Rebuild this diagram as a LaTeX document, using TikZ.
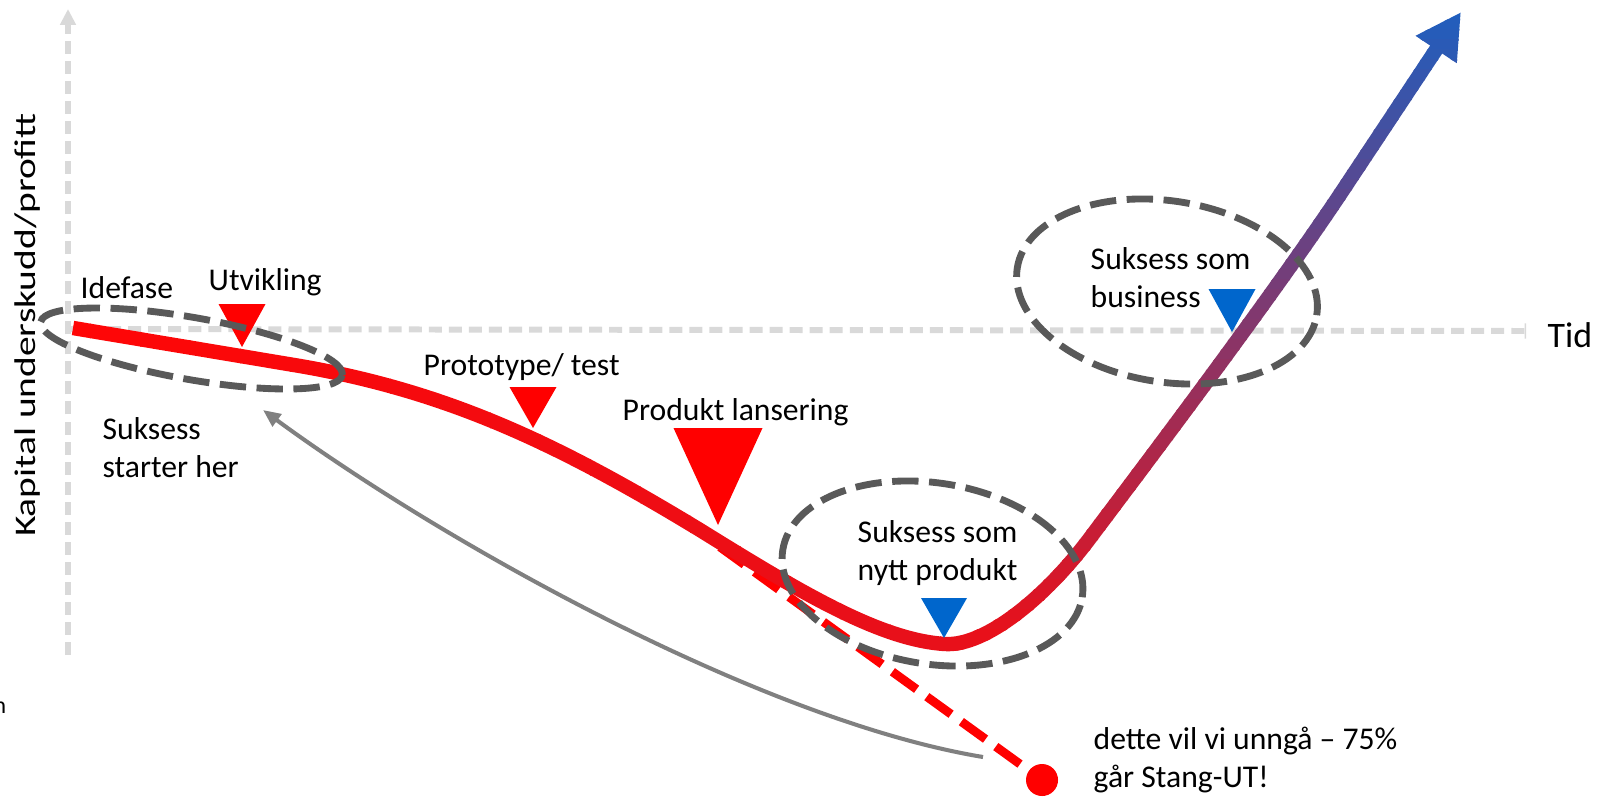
\documentclass[tikz,border=0pt]{standalone}
\usepackage{fontspec}
\setmainfont{Carlito}
\usetikzlibrary{arrows.meta,shapes.geometric}
\definecolor{axisgray}{HTML}{D9D9D9}
\definecolor{ringgray}{HTML}{595959}
\definecolor{arrowgray}{HTML}{808080}
\definecolor{startred}{RGB}{255,6,6}
\definecolor{curvered}{RGB}{232,16,26}
\definecolor{topblue}{RGB}{30,95,192}
\definecolor{markblue}{HTML}{0066CC}
% the life curve of the product, one path used for all colour bands
\newcommand{\lifecurve}{(73,328) -- (300,366) .. controls (450,392) and (560,445) .. (700,530) .. controls (800,592) and (880,640) .. (945,644) .. controls (985,646.5) and (1045,598) .. (1090,538) .. controls (1135,478) and (1270,300) .. (1343,190) -- (1461,12)}
% tip x, tip y, half width, height
\newcommand{\droptri}[5]{\fill[#1] (#2,#3) -- ({#2-#4},{#3-#5}) -- ({#2+#4},{#3-#5}) -- cycle;}
\begin{document}
\begin{tikzpicture}[x=0.01cm,y=-0.01cm,
    axis/.style={draw=axisgray,line width=1.7pt,dash pattern=on 3.7pt off 2pt},
    ring/.style={ellipse,draw=ringgray,line width=1.95pt,dash pattern=on 7.5pt off 3pt,inner sep=0pt},
    lifeline/.style={line width=4.1pt,-{Triangle[length=12.8pt,width=13.1pt]}},
    lbl/.style={inner sep=0pt,anchor=base west,align=left,font=\fontsize{9}{10.7}\selectfont}]
    \useasboundingbox (0,0) rectangle (1598,797);
    % axes
    \coordinate (yfoot) at (68,655);
    \coordinate (ytop) at (68,9);
    \coordinate (xfoot) at (68,329);
    \coordinate (xend) at (1526,331);
    \draw[axis,-{Triangle[length=4.5pt,width=4.3pt]}] (yfoot) -- (ytop);
    \draw[axis,-{Bar[width=4.3pt,line width=0.4pt]}] (xfoot) -- (xend);
    \node[inner sep=0pt,anchor=base west,font=\fontsize{10.2}{12}\selectfont] (tid) at (1547,347) {Tid};
    \node[inner sep=0pt,anchor=base,rotate=90,font=\fontsize{8.5}{10}\selectfont] (ylab) at (35,325) {\scalebox{1.32}[1]{Kapital underskudd/profitt}};
    \node[inner sep=0pt,anchor=base west,font=\fontsize{6.8}{8}\selectfont] (cut) at (-7,713) {n};
    % the way to bankruptcy
    \coordinate (branch) at (720,547);
    \node[circle,fill=red,minimum size=0.32cm,inner sep=0pt] (bust) at (1042,780) {};
    \draw[red,line width=2.5pt,dash pattern=on 8.5pt off 3.6pt] (branch) -- (bust.center);
    \coordinate (failend) at (983,757);
    \coordinate (starthere) at (263,410);
    \draw[arrowgray,line width=1.15pt,-{Triangle[length=5pt,width=4.2pt]}] (failend) .. controls (760,720) and (440,540) .. (starthere);
    % red part of the curve
    \foreach \i in {0,...,17} {
      \pgfmathtruncatemacro\p{100*\i/17}
      \colorlet{bandcol}{curvered!\p!startred}
      \begin{scope}
        \clip ({50*\i+40},0) rectangle ({50*\i+91},797);
        \draw[lifeline,bandcol] \lifecurve;
      \end{scope}
    }
    % red to blue part of the curve
    \foreach \i in {0,...,66} {
      \pgfmathtruncatemacro\p{max(0,min(100,(640-(10*\i+5))/6.28))}
      \colorlet{bandcol}{topblue!\p!curvered}
      \begin{scope}
        \clip (940,{10*\i-0.5}) rectangle (1598,{10*\i+10.5});
        \draw[lifeline,bandcol] \lifecurve;
      \end{scope}
    }
    % milestones
    \droptri{red}{242}{347}{23.5}{43}
    \droptri{red}{533}{428}{23.5}{41}
    \droptri{red}{718}{525}{44.5}{97}
    \droptri{markblue}{944}{638}{23}{40}
    \droptri{markblue}{1232}{332}{23.5}{43}
    % rings
    \node[ring,minimum width=3.06cm,minimum height=0.62cm,rotate=-10] (idearing) at (191.5,348.5) {};
    \node[ring,minimum width=3.03cm,minimum height=1.81cm,rotate=-9] (productring) at (932.5,573.5) {};
    \node[ring,minimum width=3.03cm,minimum height=1.81cm,rotate=-9] (businessring) at (1167,291.5) {};
    % labels (base is the last line)
    \node[lbl] (idefase) at (80,298) {Idefase};
    \node[lbl] (utvikling) at (208,290) {Utvikling};
    \node[lbl] (starter) at (102,477) {Suksess\\starter her};
    \node[lbl] (prototype) at (423,375) {Prototype/ test};
    \node[lbl] (lansering) at (622,420) {Produkt lansering};
    \node[lbl] (nytt) at (857,580) {Suksess som\\nytt produkt};
    \node[lbl] (business) at (1090,307) {Suksess som\\business};
    \node[lbl] (unnga) at (1093,787) {dette vil vi unngå – 75\%\\går Stang-UT!};
\end{tikzpicture}
\end{document}
